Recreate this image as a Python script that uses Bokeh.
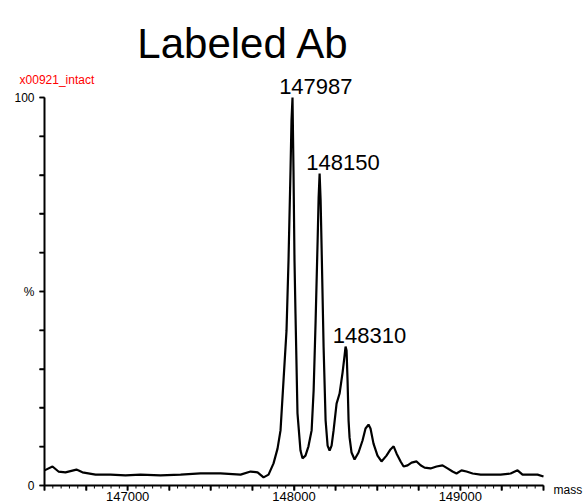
import math
from bokeh.plotting import figure
from bokeh.models import Range1d, FixedTicker, Label
from bokeh.embed import file_html
from bokeh.resources import INLINE

# Spectrum (mass in Da, relative intensity in %)
mass = [146500, 146548, 146584, 146626, 146692, 146728, 146807, 146897, 146987, 147077,
        147197, 147318, 147438, 147558, 147679, 147739, 147781, 147817, 147847, 147877,
        147901, 147919, 147937, 147955, 147967, 147979, 147985, 147991, 147997, 148003,
        148009, 148021, 148039, 148051, 148069, 148087, 148106, 148118, 148130, 148142,
        148148, 148154, 148160, 148166, 148178, 148190, 148202, 148214, 148226, 148238,
        148256, 148274, 148292, 148304, 148310, 148316, 148322, 148328, 148334, 148346,
        148364, 148388, 148412, 148430, 148448, 148460, 148478, 148502, 148526, 148556,
        148580, 148599, 148617, 148641, 148659, 148683, 148707, 148737, 148761, 148785,
        148821, 148857, 148893, 148923, 148953, 148977, 149007, 149037, 149074, 149122,
        149182, 149242, 149302, 149344, 149374, 149422, 149464, 149500]
intensity = [3.9, 4.9, 3.6, 3.4, 4.1, 3.4, 2.8, 2.8, 2.6, 2.8,
             2.6, 2.8, 3.1, 3.1, 2.8, 3.6, 3.4, 2.1, 2.8, 5.7,
             9.5, 14.2, 27.1, 39.9, 58.0, 81.2, 94.1, 100.0, 81.2, 58.0,
             44.3, 18.6, 9.0, 7.0, 7.7, 10.1, 14.2, 24.5, 42.5, 63.1,
             74.2, 80.4, 73.5, 61.3, 35.6, 16.8, 10.3, 9.0, 10.3, 14.2,
             21.1, 23.7, 29.1, 33.5, 35.8, 34.8, 27.1, 16.8, 12.4, 8.5,
             6.7, 8.5, 11.6, 14.7, 15.7, 14.7, 10.8, 7.7, 6.2, 7.7,
             9.3, 10.1, 8.2, 6.2, 4.9, 5.2, 5.9, 6.2, 5.2, 4.6,
             4.4, 4.9, 5.2, 4.4, 3.6, 3.1, 3.9, 3.6, 3.1, 2.8,
             2.8, 2.8, 3.1, 3.9, 2.8, 2.8, 2.8, 2.3]

peak_masses = [147987, 148150, 148310]
peak_values = [100.0, 80.4, 35.8]
peak_labels = ["147987", "148150", "148310"]

x_min, x_max = 146500, 149500
y_min, y_max = 0, 100
x_ticks = [146500 + 250 * i for i in range(13)]
x_minor = [t for t in range(146500, 149501, 50) if t not in x_ticks]
x_tick_labels = {147000: "147000", 148000: "148000", 149000: "149000"}
y_ticks = [0, 10, 20, 30, 40, 50, 60, 70, 80, 90, 100]
y_tick_labels = {0: "0", 50: "%", 100: "100"}

title_text = "Labeled Ab"
sample_text = "x00921_intact"
x_unit_text = "mass"

FONT = "Liberation Sans"

# frame covers the whole canvas; axes sit at fixed data locations
W, H = 584, 504
ax_left, ax_right, ax_top, ax_bottom = 44, 543, 97, 485
dx = (x_max - x_min) / (ax_right - ax_left)
dy = (y_max - y_min) / (ax_bottom - ax_top)
xr = Range1d(x_min - ax_left * dx, x_max + (W - ax_right) * dx)
yr = Range1d(y_min - (H - ax_bottom) * dy, y_max + ax_top * dy)

p = figure(width=W, height=H, output_backend="svg", toolbar_location=None,
           x_range=xr, y_range=yr,
           min_border_left=0, min_border_right=0, min_border_top=0, min_border_bottom=0)
p.outline_line_alpha = 0
p.grid.visible = False

p.line(mass, intensity, line_color="black", line_width=2.2)

# tick marks drawn as screen-length rays from the tick positions
p.ray(x=x_ticks, y=[y_min] * len(x_ticks), length=5, angle=-math.pi / 2,
      length_units="screen", line_color="black", line_width=1.6)
p.ray(x=x_minor, y=[y_min] * len(x_minor), length=3, angle=-math.pi / 2,
      length_units="screen", line_color="black", line_width=1)
p.ray(x=[x_min] * len(y_ticks), y=y_ticks, length=5, angle=math.pi,
      length_units="screen", line_color="black", line_width=1.6)

# x axis
xa = p.xaxis[0]
xa.fixed_location = y_min
xa.bounds = (x_min, x_max)
xa.ticker = FixedTicker(ticks=x_ticks, minor_ticks=[])
xa.major_label_overrides = {t: x_tick_labels.get(t, "") for t in x_ticks}
xa.axis_line_width = 2
xa.axis_line_color = "black"
xa.major_tick_in = 0
xa.major_tick_out = 5
xa.major_tick_line_width = 1.6
xa.major_label_standoff = 1
xa.major_label_text_font = FONT
xa.major_label_text_font_size = "13px"
xa.major_label_text_color = "black"

# y axis
ya = p.yaxis[0]
ya.fixed_location = x_min
ya.bounds = (y_min, y_max)
ya.ticker = FixedTicker(ticks=y_ticks, minor_ticks=[])
ya.major_label_overrides = {t: y_tick_labels.get(t, "") for t in y_ticks}
ya.axis_line_width = 2
ya.axis_line_color = "black"
ya.major_tick_in = 0
ya.major_tick_out = 5
ya.major_tick_line_width = 1.6
ya.major_label_standoff = 5
ya.major_label_text_font = FONT
ya.major_label_text_font_size = "12px"
ya.major_label_text_color = "black"

# peak annotations
for m, v, t in zip(peak_masses, peak_values, peak_labels):
    p.add_layout(Label(x=m, y=v, x_offset=24, y_offset=11, text=t, text_align="center",
                       text_baseline="alphabetic", text_font=FONT,
                       text_font_size="22px", text_color="black"))

p.add_layout(Label(x=147697, y=113.9, text=title_text, text_align="center",
                   text_baseline="alphabetic", text_font=FONT,
                   text_font_size="42px", text_color="black"))
p.add_layout(Label(x=146350, y=104.6, text=sample_text, text_align="left",
                   text_baseline="alphabetic", text_font=FONT,
                   text_font_size="12px", text_color="#ff0000"))
p.add_layout(Label(x=x_max, y=y_min, x_offset=10, y_offset=-4, text=x_unit_text,
                   text_align="left", text_baseline="middle", text_font=FONT,
                   text_font_size="12px", text_color="black"))

open("out.html", "w").write(file_html(p, INLINE))
